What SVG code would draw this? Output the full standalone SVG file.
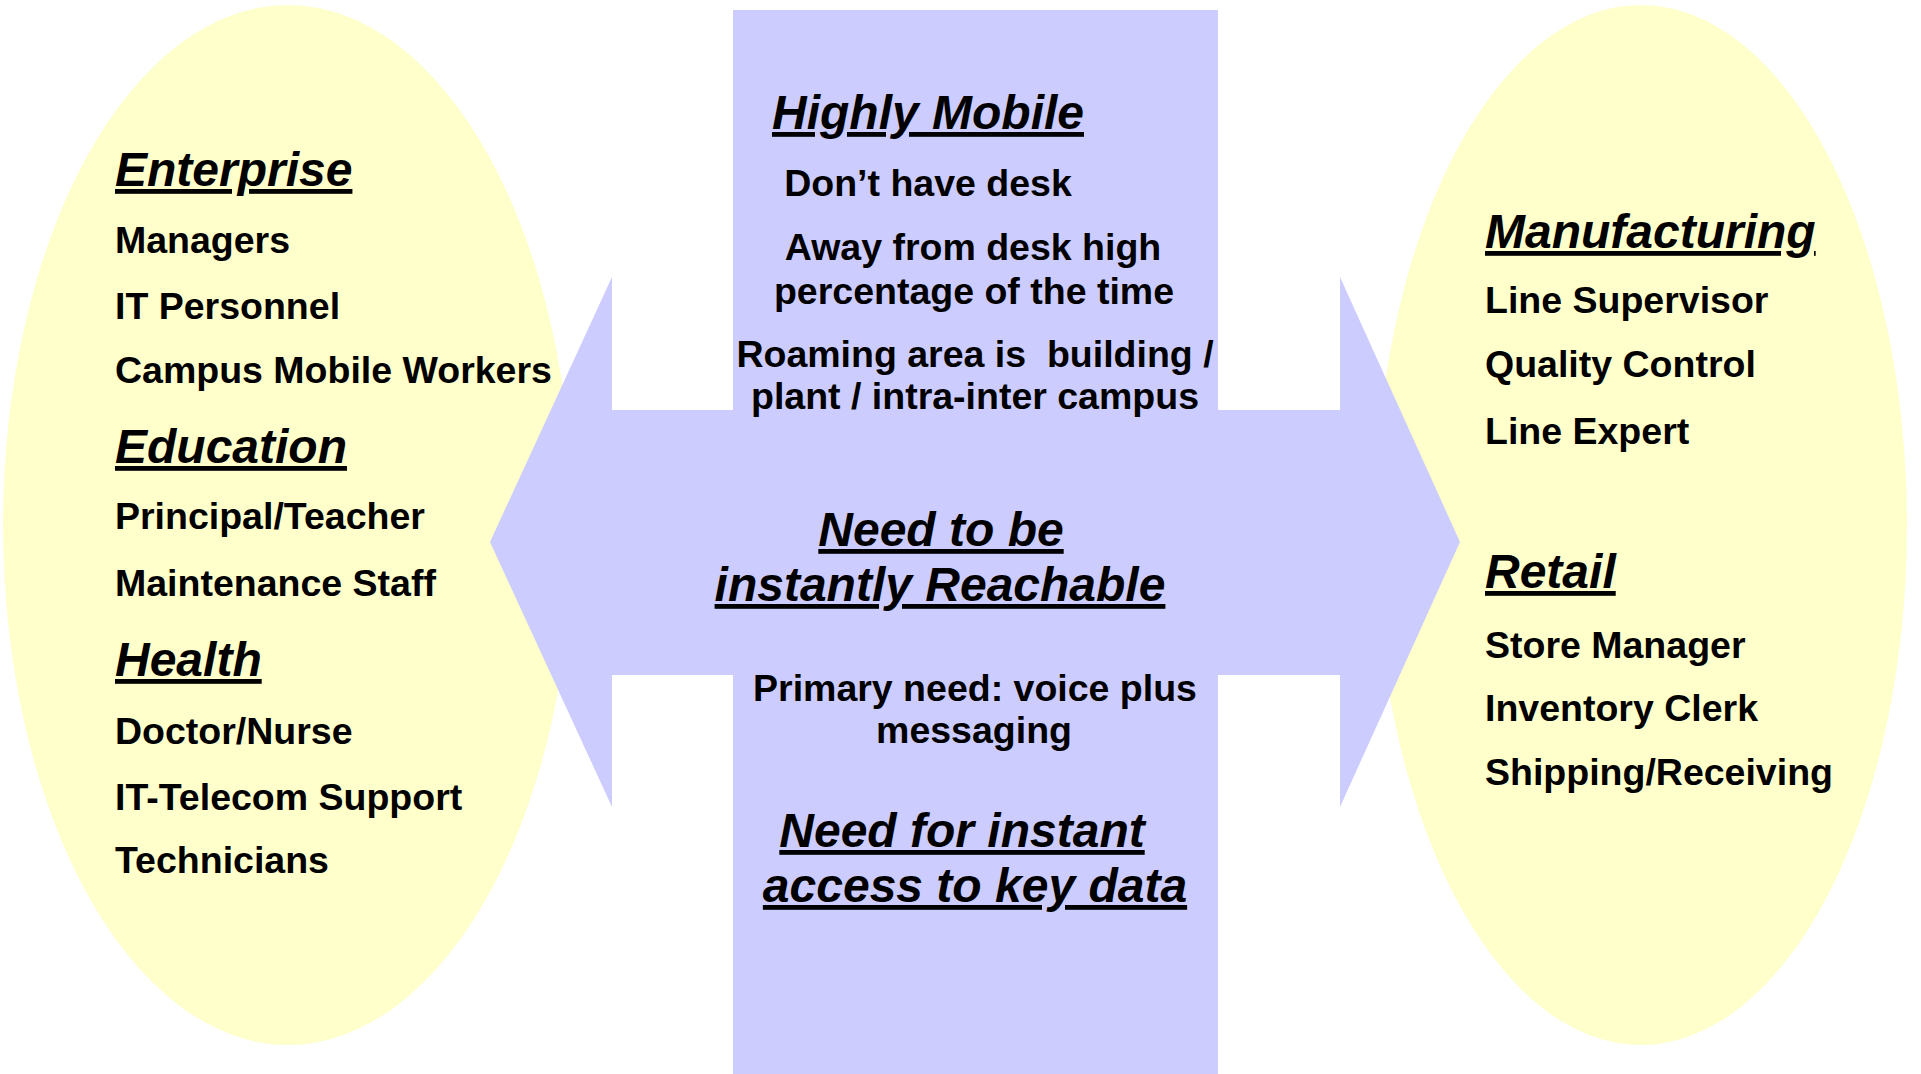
<svg xmlns="http://www.w3.org/2000/svg" width="1921" height="1074" viewBox="0 0 1921 1074">
<style>
.bg{fill:#ffffff}
.ell{fill:#FFFFCC}
.lav{fill:#CCCCFF}
text{font-family:"Liberation Sans",Arial,sans-serif;font-weight:bold;fill:#000}
.h{font-size:48px;font-style:italic;text-decoration:underline;text-decoration-skip-ink:none}
.i{font-size:37.5px}
.m{text-anchor:middle}
.pre{white-space:pre}
</style>
<rect class="bg" x="0" y="0" width="1921" height="1074"/>
<g id="left-ellipse">
<ellipse class="ell" cx="288" cy="525" rx="285" ry="520"/>
</g>
<g id="right-ellipse">
<ellipse class="ell" cx="1641" cy="525" rx="266" ry="520"/>
</g>
<g id="center-band">
<rect class="lav" x="733" y="10" width="485" height="1064"/>
</g>
<g id="connectors">
<polygon id="double-arrow" class="lav" points="490,542 612,277 612,410 1340,410 1340,277 1460,542 1340,807 1340,675 612,675 612,807"/>
</g>
<g id="left-text">
<text class="h" x="115" y="186">Enterprise</text>
<text class="i" x="115" y="253">Managers</text>
<text class="i" x="115" y="319">IT Personnel</text>
<text class="i" x="115" y="383">Campus Mobile Workers</text>
<text class="h" x="115" y="463">Education</text>
<text class="i" x="115" y="529">Principal/Teacher</text>
<text class="i" x="115" y="596">Maintenance Staff</text>
<text class="h" x="115" y="676">Health</text>
<text class="i" x="115" y="744">Doctor/Nurse</text>
<text class="i" x="115" y="810">IT-Telecom Support</text>
<text class="i" x="115" y="873">Technicians</text>
</g>
<g id="center-text">
<text class="h m" x="928" y="129">Highly Mobile</text>
<text class="i m" x="928" y="196">Don’t have desk</text>
<text class="i m" x="973" y="260">Away from desk high</text>
<text class="i m" x="974" y="304">percentage of the time</text>
<text class="i m pre" x="975" y="367">Roaming area is  building /</text>
<text class="i m" x="975" y="409">plant / intra-inter campus</text>
<text class="h m" x="941" y="546">Need to be</text>
<text class="h m" x="940" y="601">instantly Reachable</text>
<text class="i m" x="975" y="701">Primary need: voice plus</text>
<text class="i m" x="974" y="743">messaging</text>
<text class="h m" x="962" y="847">Need for instant</text>
<text class="h m" x="975" y="902">access to key data</text>
</g>
<g id="right-text">
<text class="h" x="1485" y="248">Manufacturing</text>
<text class="i" x="1485" y="313">Line Supervisor</text>
<text class="i" x="1485" y="377">Quality Control</text>
<text class="i" x="1485" y="444">Line Expert</text>
<text class="h" x="1485" y="588">Retail</text>
<text class="i" x="1485" y="658">Store Manager</text>
<text class="i" x="1485" y="721">Inventory Clerk</text>
<text class="i" x="1485" y="785">Shipping/Receiving</text>
</g>
</svg>
